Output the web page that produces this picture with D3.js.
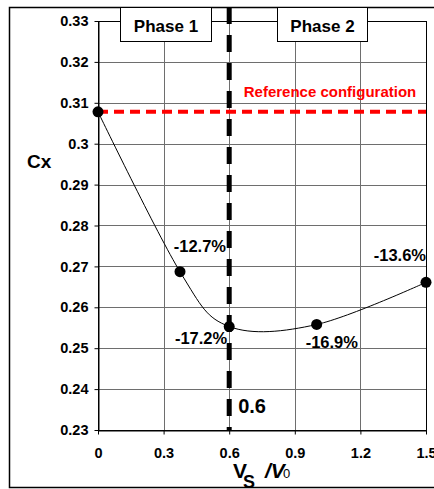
<!DOCTYPE html>
<html>
<head>
<meta charset="utf-8">
<script src="https://cdn.jsdelivr.net/npm/d3@7"></script>
<style>
  body { margin: 0; background: #fff; }
  svg text { font-family: Arial, "Liberation Sans", sans-serif; font-weight: bold; }
</style>
</head>
<body>
<div id="chart"></div>
<script>
// values
var ratioVals = [0, 0.375, 0.6, 1.0, 1.5];
var cxVals = [0.3078, 0.2687, 0.2553, 0.2558, 0.2661];
var gainLabels = ["", "-12.7%", "-17.2%", "-16.9%", "-13.6%"];
var xTicks = [0, 0.3, 0.6, 0.9, 1.2, 1.5];
var yTicks = [0.23, 0.24, 0.25, 0.26, 0.27, 0.28, 0.29, 0.3, 0.31, 0.32, 0.33];
var refCx = 0.3078;
var phaseSplit = 0.6;
var phaseNames = ["Phase 1", "Phase 2"];

// label placement relative to each point (dx, dy, anchor)
var labelPos = [null, [46, -20, "end"], [-2, 17, "end"], [-11, 24, "start"], [0, -21, "end"]];

var W = 434, H = 489;
var plot = { left: 98, right: 426, top: 21, bottom: 430 };

var svg = d3.select("#chart").append("svg")
    .attr("width", W)
    .attr("height", H);

var x = d3.scaleLinear().domain([0, 1.5]).range([plot.left, plot.right]);
var y = d3.scaleLinear().domain([0.23, 0.33]).range([plot.bottom, plot.top]);

// outer frame
svg.append("rect")
    .attr("x", 9.5).attr("y", 7.5)
    .attr("width", 440).attr("height", 480)
    .attr("fill", "none")
    .attr("stroke", "#000")
    .attr("stroke-width", 1.5);

// grid
svg.append("g").selectAll("line.hg")
    .data(yTicks)
    .enter().append("line")
    .attr("x1", plot.left).attr("x2", plot.right)
    .attr("y1", function (d) { return Math.round(y(d)) + 0.5; })
    .attr("y2", function (d) { return Math.round(y(d)) + 0.5; })
    .attr("stroke", "#6e6e6e");
svg.append("g").selectAll("line.vg")
    .data(xTicks)
    .enter().append("line")
    .attr("y1", plot.top).attr("y2", plot.bottom)
    .attr("x1", function (d) { return Math.round(x(d)) + 0.5; })
    .attr("x2", function (d) { return Math.round(x(d)) + 0.5; })
    .attr("stroke", "#6e6e6e");

// plot frame
svg.append("rect")
    .attr("x", plot.left + 0.5).attr("y", plot.top + 0.5)
    .attr("width", plot.right - plot.left).attr("height", plot.bottom - plot.top)
    .attr("fill", "none")
    .attr("stroke", "#000");

// axes
var yAxis = svg.append("g")
    .attr("transform", "translate(" + (plot.left + 0.5) + ",0)")
    .call(d3.axisLeft(y).tickValues(yTicks).tickSize(4).tickSizeOuter(0).tickPadding(6).tickFormat(d3.format("~g")));
var xAxis = svg.append("g")
    .attr("transform", "translate(0," + (plot.bottom + 0.5) + ")")
    .call(d3.axisBottom(x).tickValues(xTicks).tickSize(4).tickSizeOuter(0).tickPadding(13).tickFormat(d3.format("~g")));
[yAxis, xAxis].forEach(function (a) {
    a.selectAll("text").style("font-size", "14.5px").attr("fill", "#000")
        .style("font-family", "Arial, 'Liberation Sans', sans-serif").style("font-weight", "bold");
    a.selectAll("line").attr("stroke", "#000");
    a.select(".domain").attr("stroke", "#000");
});

// reference configuration line
svg.append("line")
    .attr("x1", x(0)).attr("x2", x(1.5))
    .attr("y1", y(refCx)).attr("y2", y(refCx))
    .attr("stroke", "#ff0000")
    .attr("stroke-width", 4)
    .attr("stroke-dasharray", "10,6");
svg.append("text")
    .attr("x", 330).attr("y", 97)
    .attr("text-anchor", "middle")
    .attr("fill", "#ff0000")
    .style("font-size", "15px")
    .text("Reference configuration");

// smoothed curve
var pts = ratioVals.map(function (v, i) { return { r: v, cx: cxVals[i], lab: gainLabels[i], pos: labelPos[i] }; });
svg.append("path")
    .datum(pts)
    .attr("fill", "none")
    .attr("stroke", "#000")
    .attr("stroke-width", 1)
    .attr("d", d3.line()
        .x(function (d) { return x(d.r); })
        .y(function (d) { return y(d.cx); })
        .curve(d3.curveCardinal.tension(0)));

// phase separation
svg.append("line")
    .attr("x1", x(phaseSplit)).attr("x2", x(phaseSplit))
    .attr("y1", 7).attr("y2", plot.bottom)
    .attr("stroke", "#000")
    .attr("stroke-width", 5)
    .attr("stroke-dasharray", "17,11");
svg.append("text")
    .attr("x", x(phaseSplit) + 9).attr("y", 413)
    .style("font-size", "20px")
    .text("0.6");

// points
svg.append("g").selectAll("circle")
    .data(pts)
    .enter().append("circle")
    .attr("cx", function (d) { return x(d.r); })
    .attr("cy", function (d) { return y(d.cx); })
    .attr("r", 5.5)
    .attr("fill", "#000");

svg.append("g").selectAll("text")
    .data(pts.filter(function (d) { return d.lab; }))
    .enter().append("text")
    .attr("x", function (d) { return x(d.r) + d.pos[0]; })
    .attr("y", function (d) { return y(d.cx) + d.pos[1]; })
    .attr("text-anchor", function (d) { return d.pos[2]; })
    .style("font-size", "16.5px")
    .text(function (d) { return d.lab; });

// phase boxes
var boxes = [[120, 211], [277, 367]];
phaseNames.forEach(function (name, i) {
    svg.append("rect")
        .attr("x", boxes[i][0] + 0.5).attr("y", 7.5)
        .attr("width", boxes[i][1] - boxes[i][0]).attr("height", 34)
        .attr("fill", "#fff")
        .attr("stroke", "#000");
    svg.append("text")
        .attr("x", (boxes[i][0] + boxes[i][1]) / 2 + 0.5).attr("y", 32)
        .attr("text-anchor", "middle")
        .style("font-size", "17px")
        .text(name);
});

// axis titles
svg.append("text")
    .attr("x", 27).attr("y", 168)
    .style("font-size", "19px")
    .text("Cx");

var xl = svg.append("text").attr("y", 478);
xl.append("tspan").attr("x", 233).style("font-size", "21px").text("V");
xl.append("tspan").attr("x", 243).attr("dy", 10).style("font-size", "18px").text("S");
xl.append("tspan").attr("x", 265).attr("dy", -10).style("font-size", "21px").style("font-style", "italic").text("/V");
xl.append("tspan").attr("x", 283).style("font-size", "13px").style("font-weight", "normal").text("0");
</script>
</body>
</html>
